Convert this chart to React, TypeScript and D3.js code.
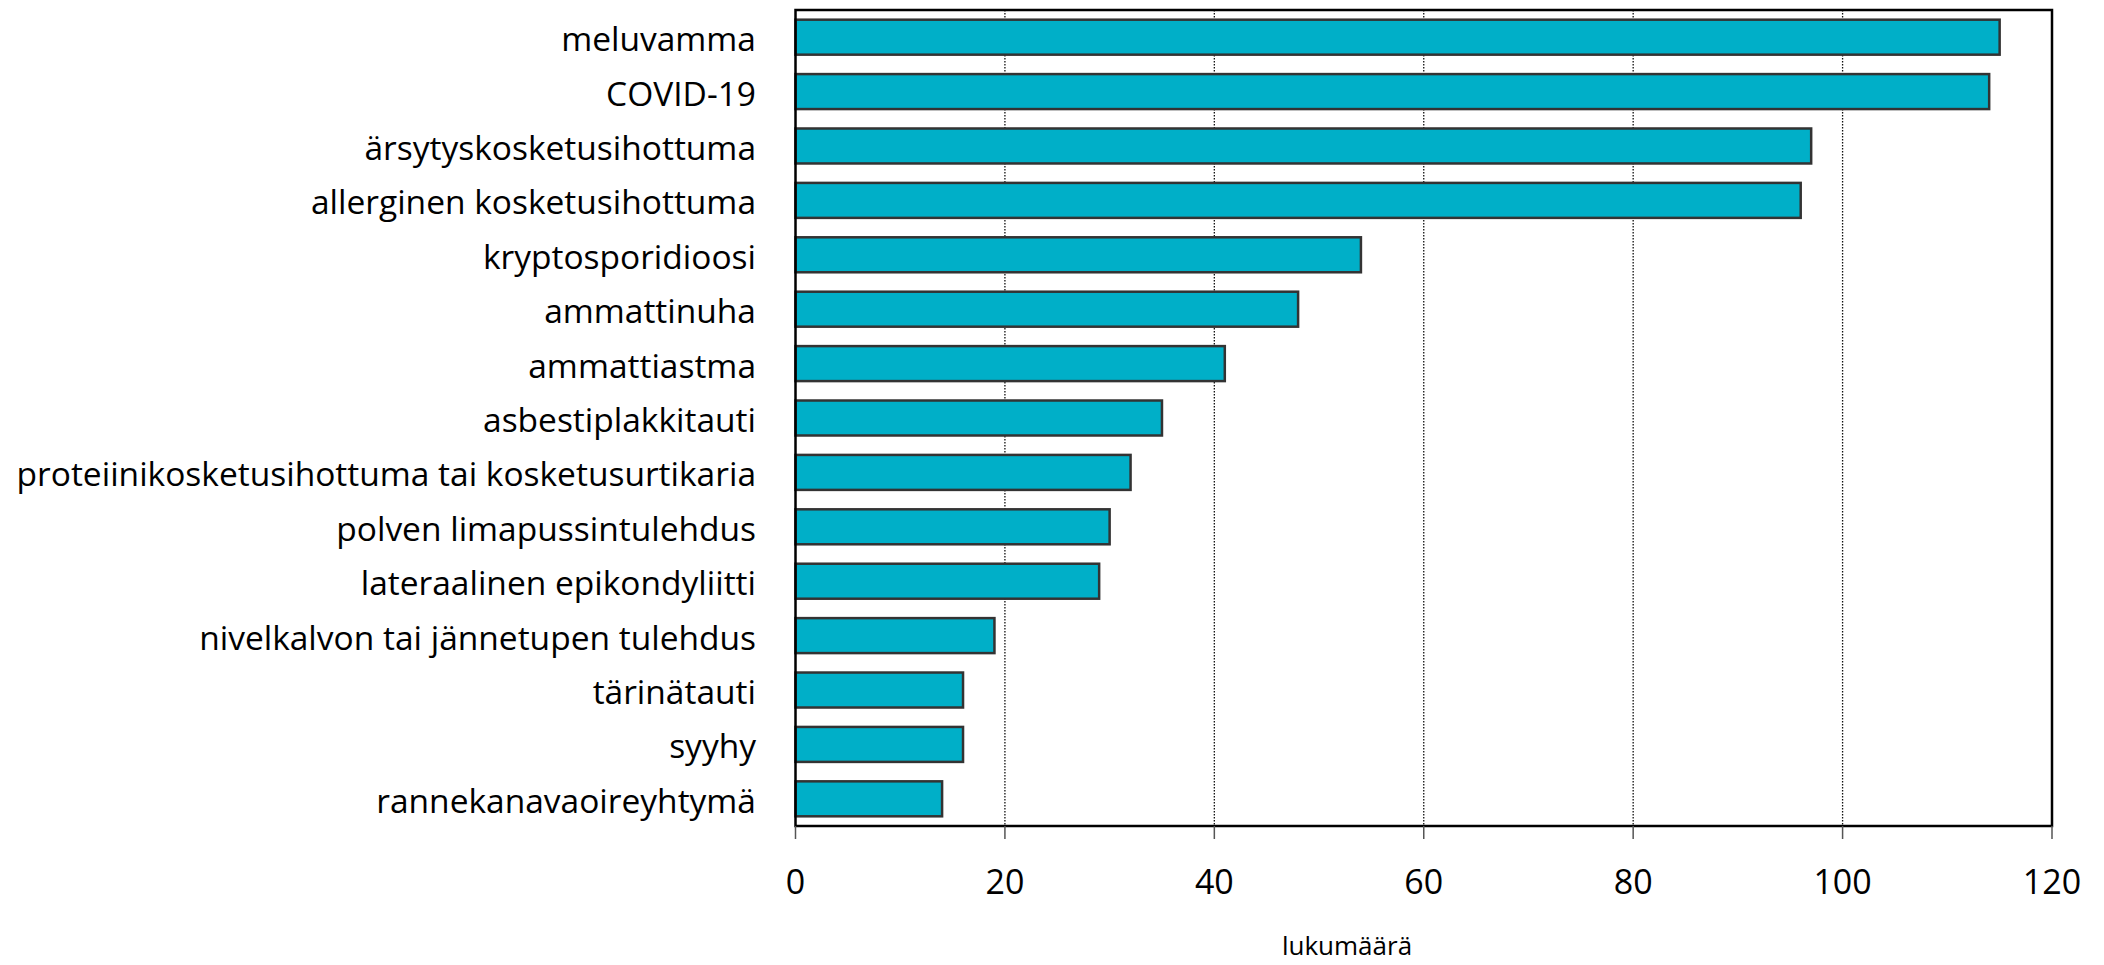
import React from "react";
import * as d3 from "d3";

const categories = [
  "meluvamma",
  "COVID-19",
  "ärsytyskosketusihottuma",
  "allerginen kosketusihottuma",
  "kryptosporidioosi",
  "ammattinuha",
  "ammattiastma",
  "asbestiplakkitauti",
  "proteiinikosketusihottuma tai kosketusurtikaria",
  "polven limapussintulehdus",
  "lateraalinen epikondyliitti",
  "nivelkalvon tai jännetupen tulehdus",
  "tärinätauti",
  "syyhy",
  "rannekanavaoireyhtymä",
];
const values = [115, 114, 97, 96, 54, 48, 41, 35, 32, 30, 29, 19, 16, 16, 14];
const xTicks = [0, 20, 40, 60, 80, 100, 120];
const xTitle = "lukumäärä";

const W = 2104;
const H = 965;
const M = { left: 795.5, right: 2052, top: 10, bottom: 826 };
const FONT = "'Open Sans', sans-serif";

export default function App() {
  const x = d3.scaleLinear().domain([0, 120]).range([M.left, M.right]);
  const y = d3
    .scaleBand<string>()
    .domain(categories)
    .range([M.top, M.bottom])
    .paddingInner(0.357)
    .paddingOuter(0.178);

  return (
    <svg
      width={W}
      height={H}
      style={{ position: "absolute", left: 0, top: 0, background: "#fff" }}
    >
      {/* gridlines */}
      {xTicks
        .filter((t) => t > 0 && t < 120)
        .map((t) => (
          <line
            key={"g" + t}
            x1={x(t)}
            x2={x(t)}
            y1={M.top}
            y2={M.bottom}
            stroke="#111"
            strokeWidth={1.3}
            strokeDasharray="1.5,1.5"
          />
        ))}
      {/* bars */}
      {categories.map((c, i) => (
        <rect
          key={c}
          x={x(0)}
          y={y(c)}
          width={x(values[i]) - x(0)}
          height={y.bandwidth()}
          fill="#00AFC8"
          stroke="#333"
          strokeWidth={2.5}
        />
      ))}
      {/* frame */}
      <rect
        x={M.left}
        y={M.top}
        width={M.right - M.left}
        height={M.bottom - M.top}
        fill="none"
        stroke="#000"
        strokeWidth={2.5}
      />
      {/* ticks */}
      {xTicks.map((t) => (
        <g key={"t" + t}>
          <line
            x1={x(t)}
            x2={x(t)}
            y1={M.bottom}
            y2={M.bottom + 13}
            stroke="#555"
            strokeWidth={1.5}
          />
          <text
            x={x(t)}
            y={894}
            textAnchor="middle"
            fontFamily={FONT}
            fontSize={34}
            fill="#000"
          >
            {t}
          </text>
        </g>
      ))}
      {/* category labels */}
      {categories.map((c) => (
        <text
          key={"l" + c}
          x={M.left - 39.5}
          y={(y(c) as number) + y.bandwidth() / 2 + 14}
          textAnchor="end"
          fontFamily={FONT}
          fontSize={33.5}
          fill="#000"
        >
          {c}
        </text>
      ))}
      <text
        x={1347}
        y={955}
        textAnchor="middle"
        fontFamily={FONT}
        fontSize={26}
        fill="#000"
      >
        {xTitle}
      </text>
    </svg>
  );
}
